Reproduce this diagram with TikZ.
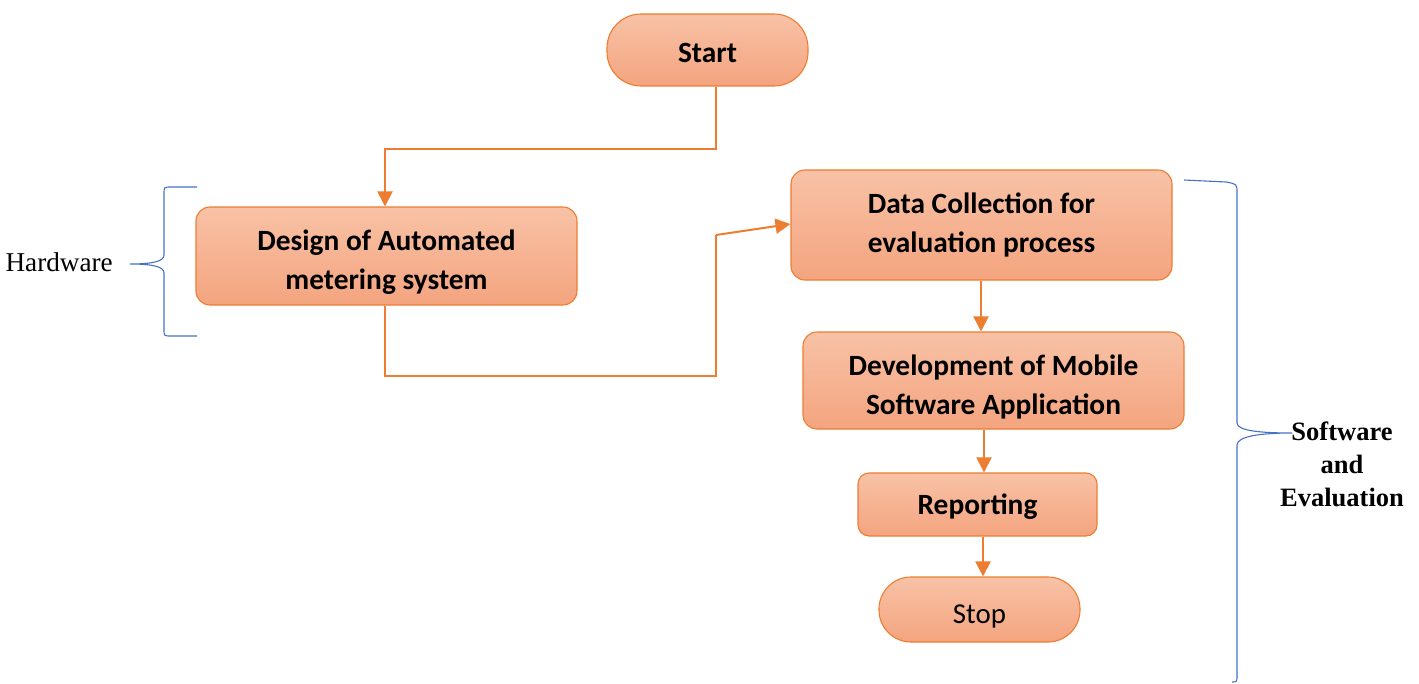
\documentclass[tikz,border=0pt]{standalone}
\usepackage{fontspec}
\setmainfont{Liberation Serif}
\newfontfamily\calib{Carlito}
\usetikzlibrary{arrows.meta,calc}
\definecolor{orA}{HTML}{ED7D31}
\definecolor{fillTop}{HTML}{F8C2A6}
\definecolor{fillBot}{HTML}{F4A47F}
\definecolor{braceBlue}{HTML}{4472C4}
\newcommand{\dn}[1]{\rule{0pt}{#1}}
\tikzset{
  box/.style={draw=orA, line width=1.1bp, top color=fillTop, bottom color=fillBot,
    rounded corners=14bp, align=center, inner sep=0pt,
    font=\calib\bfseries\fontsize{29.5}{39}\selectfont},
  pill/.style={box, rounded corners=34bp},
  arr/.style={draw=orA, line width=2bp, -{Triangle[width=15bp,length=15bp]}},
  conn/.style={draw=orA, line width=2bp},
  brace/.style={draw=braceBlue, line width=1.1bp},
  lbl/.style={align=center, inner sep=0pt}
}
\begin{document}
\begin{tikzpicture}[x=1bp,y=-1bp]
\useasboundingbox (0,0) rectangle (1419,684);
\node[pill, minimum width=201bp, minimum height=72bp] (start) at (707.5,50) {\dn{26bp}Start};
\node[box, minimum width=381bp, minimum height=98bp] (design) at (386.5,256) {\dn{33bp}Design of Automated\\metering system};
\node[box, minimum width=381bp, minimum height=110bp] (data) at (981.5,225) {Data Collection for\\evaluation process};
\node[box, minimum width=381bp, minimum height=97bp] (dev) at (993.5,380.5) {\dn{33bp}Development of Mobile\\Software Application};
\node[box, minimum width=239bp, minimum height=63bp, rounded corners=11bp] (rep) at (977.5,504.5) {\dn{25bp}Reporting};
\node[pill, minimum width=201bp, minimum height=65bp, rounded corners=32bp, font=\calib\fontsize{29}{39}\selectfont] (stop) at (979.5,609.5) {\dn{32bp}Stop};

\coordinate (j1) at (716,376);
\coordinate (j2) at (716,235);

\draw[arr] ([xshift=8.5bp]start.south) -- ++(0,62) -| ([xshift=-1.5bp]design.north);
\draw[conn] ([xshift=-1.5bp]design.south) |- (j1) -- (j2);
\draw[arr] (j2) -- ([yshift=1bp]data.west);
\draw[arr] ([xshift=-0.5bp]data.south) -- ([xshift=-0.5bp]data.south |- dev.north);
\draw[arr] ([xshift=-9.5bp]dev.south) -- ([xshift=-9.5bp]dev.south |- rep.north);
\draw[arr] ([xshift=5.5bp]rep.south) -- ([xshift=5.5bp]rep.south |- stop.north);

% Hardware brace
\node[lbl, font=\fontsize{27.3}{33}\selectfont, anchor=east] (hw) at (113,262) {Hardware};
\draw[brace] (197,187) -- (171,187) .. controls (164,187) .. (164,194) -- (164,255)
  .. controls (164,262) and (150,264) .. (130,264)
  .. controls (150,264) and (164,266) .. (164,273) -- (164,329)
  .. controls (164,336) .. (171,336) -- (197,336);

% Software brace
\node[lbl, font=\bfseries\fontsize{26.6}{33}\selectfont] (sw) at (1342,464) {Software\\and\\Evaluation};
\draw[brace] (1184,180) -- (1226,182) .. controls (1237,184) .. (1237,193) -- (1237,423)
  .. controls (1237,431) and (1262,433) .. (1292,433)
  .. controls (1262,433) and (1237,436) .. (1237,445) -- (1237,675)
  .. controls (1237,682) .. (1232,682);
\end{tikzpicture}
\end{document}
